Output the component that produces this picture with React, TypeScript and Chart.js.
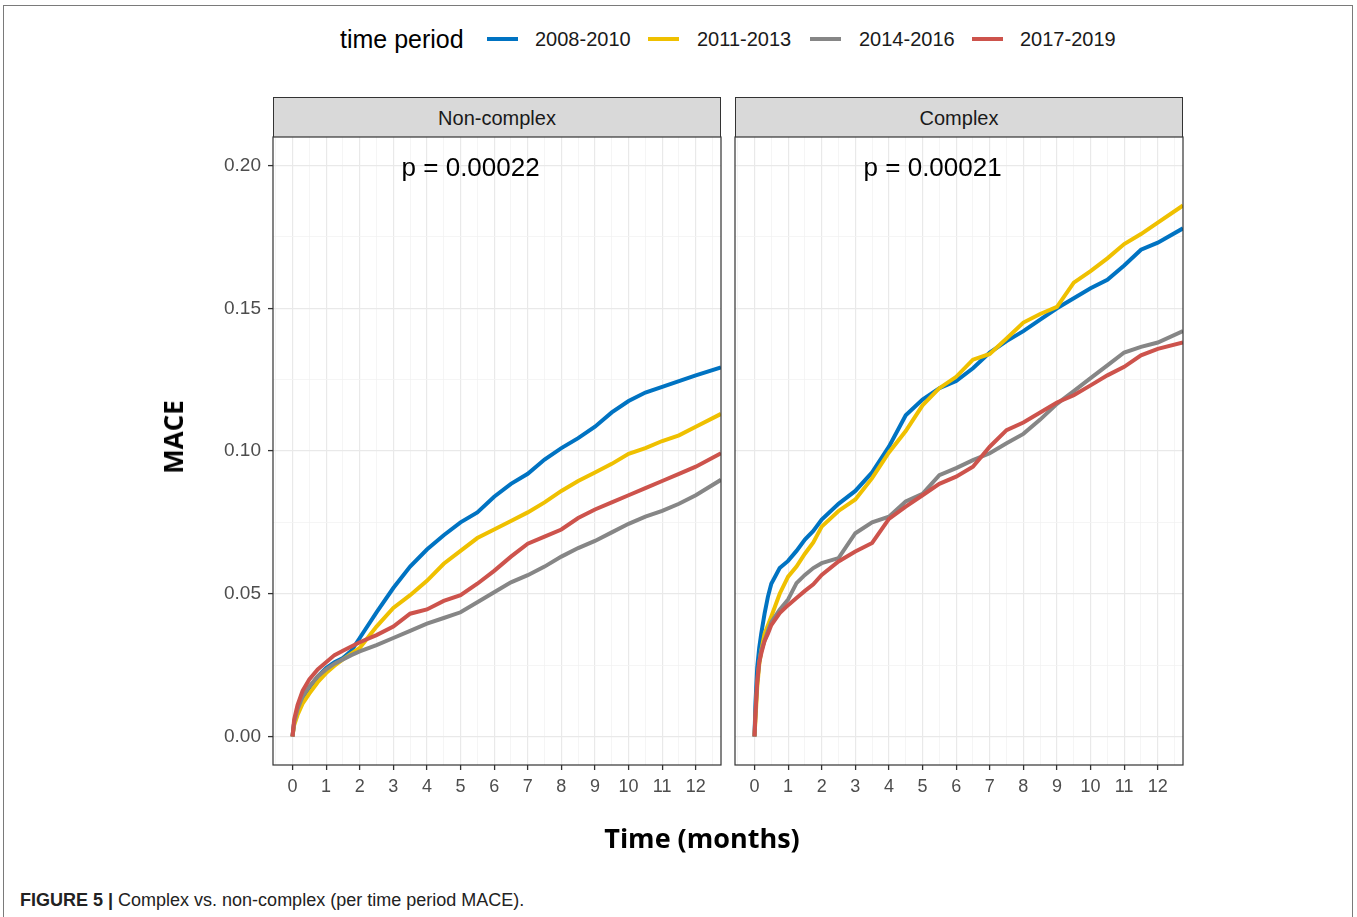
import React, { useEffect, useRef } from 'react';
import { Chart, registerables } from 'chart.js';

Chart.register(...registerables);

// ---------- data ----------
const SERIES_LABELS = ['2008-2010', '2011-2013', '2014-2016', '2017-2019'];
const SERIES_COLORS = ['#0073C2', '#EFC000', '#868686', '#CD534C'];
const PANEL_TITLES = ['Non-complex', 'Complex'];
const P_VALUES = ['p = 0.00022', 'p = 0.00021'];
const P_LABEL_X = 5.3;
const P_LABEL_Y = 0.199;
const X_MIN = -0.58;
const X_MAX = 12.75;
const Y_MIN = -0.01;
const Y_MAX = 0.21;

// Non-complex panel
const MONTHS_NC = [0, 0.05, 0.15, 0.3, 0.5, 0.75, 1, 1.25, 1.5, 1.75, 2, 2.5, 3, 3.5, 4, 4.5, 5, 5.5, 6, 6.5, 7, 7.5, 8, 8.5, 9, 9.5, 10, 10.5, 11, 11.5, 12, 12.75];
const NC_2008_2010 = [0, 0.005, 0.009, 0.0135, 0.017, 0.021, 0.024, 0.026, 0.0275, 0.03, 0.0345, 0.0435, 0.052, 0.0595, 0.0655, 0.0705, 0.075, 0.0785, 0.084, 0.0885, 0.092, 0.097, 0.101, 0.1045, 0.1085, 0.1135, 0.1175, 0.1205, 0.1225, 0.1245, 0.1265, 0.1293];
const NC_2011_2013 = [0, 0.004, 0.0075, 0.0115, 0.015, 0.019, 0.0222, 0.0248, 0.027, 0.029, 0.031, 0.0385, 0.045, 0.0495, 0.0545, 0.0605, 0.065, 0.0695, 0.0725, 0.0755, 0.0785, 0.082, 0.086, 0.0895, 0.0925, 0.0955, 0.099, 0.101, 0.1035, 0.1055, 0.1085, 0.113];
const NC_2014_2016 = [0, 0.005, 0.0095, 0.014, 0.0175, 0.021, 0.0235, 0.0255, 0.027, 0.0285, 0.0298, 0.032, 0.0345, 0.037, 0.0395, 0.0415, 0.0435, 0.047, 0.0505, 0.054, 0.0565, 0.0595, 0.063, 0.066, 0.0685, 0.0715, 0.0745, 0.077, 0.079, 0.0815, 0.0845, 0.0899];
const NC_2017_2019 = [0, 0.006, 0.011, 0.016, 0.02, 0.0235, 0.026, 0.0285, 0.03, 0.0315, 0.033, 0.0355, 0.0385, 0.043, 0.0445, 0.0475, 0.0495, 0.0535, 0.058, 0.063, 0.0675, 0.07, 0.0725, 0.0765, 0.0795, 0.082, 0.0845, 0.087, 0.0895, 0.092, 0.0945, 0.0992];

// Complex panel
const MONTHS_C = [0, 0.03, 0.08, 0.14, 0.2, 0.3, 0.4, 0.5, 0.75, 1, 1.25, 1.5, 1.75, 2, 2.5, 3, 3.5, 4, 4.5, 5, 5.5, 6, 6.5, 7, 7.5, 8, 8.5, 9, 9.5, 10, 10.5, 11, 11.5, 12, 12.75];
const C_2008_2010 = [0, 0.012, 0.024, 0.031, 0.036, 0.043, 0.049, 0.0535, 0.059, 0.0615, 0.065, 0.069, 0.072, 0.076, 0.0815, 0.086, 0.0925, 0.1015, 0.1125, 0.118, 0.122, 0.1245, 0.129, 0.1345, 0.1385, 0.142, 0.146, 0.15, 0.1535, 0.157, 0.16, 0.165, 0.1705, 0.173, 0.178];
const C_2011_2013 = [0, 0.006, 0.017, 0.025, 0.03, 0.036, 0.039, 0.042, 0.05, 0.056, 0.0595, 0.064, 0.068, 0.0735, 0.079, 0.083, 0.0905, 0.0995, 0.107, 0.116, 0.122, 0.126, 0.132, 0.134, 0.1394, 0.145, 0.148, 0.1505, 0.159, 0.163, 0.1675, 0.1725, 0.176, 0.18, 0.186];
const C_2014_2016 = [0, 0.009, 0.019, 0.026, 0.03, 0.0335, 0.037, 0.04, 0.0444, 0.048, 0.0537, 0.0566, 0.059, 0.0607, 0.0625, 0.0712, 0.075, 0.077, 0.0823, 0.085, 0.0915, 0.094, 0.0968, 0.0992, 0.1027, 0.106, 0.111, 0.1165, 0.121, 0.1255, 0.13, 0.1345, 0.1365, 0.138, 0.142];
const C_2017_2019 = [0, 0.008, 0.019, 0.026, 0.029, 0.0335, 0.036, 0.039, 0.0432, 0.046, 0.0485, 0.051, 0.0533, 0.0566, 0.0613, 0.0648, 0.0678, 0.0762, 0.0805, 0.0845, 0.0885, 0.091, 0.0945, 0.1015, 0.1073, 0.11, 0.1135, 0.117, 0.1195, 0.123, 0.1265, 0.1295, 0.1335, 0.1358, 0.138];

const FONT = '"Liberation Sans", Arial, Helvetica, sans-serif';
const BOLD_FONT = '"Open Sans", "Liberation Sans", Arial, sans-serif';

const isWhole = (v: number) => Math.abs(v - Math.round(v)) < 1e-9;
const isMajorY = (v: number) => Math.abs(v / 0.05 - Math.round(v / 0.05)) < 1e-6;

const panelDecor = {
  id: 'panelDecor',
  afterDatasetsDraw(chart: any, _args: any, opts: any) {
    const { ctx, chartArea: a, scales } = chart;
    ctx.save();
    ctx.strokeStyle = '#333333';
    ctx.lineWidth = 1.2;
    ctx.strokeRect(a.left, a.top, a.right - a.left, a.bottom - a.top);
    ctx.fillStyle = '#000000';
    ctx.font = `26px ${FONT}`;
    ctx.textAlign = 'center';
    ctx.textBaseline = 'middle';
    ctx.fillText(opts.text, scales.x.getPixelForValue(P_LABEL_X), scales.y.getPixelForValue(P_LABEL_Y));
    ctx.restore();
  },
};

type PanelProps = {
  months: number[];
  series: number[][];
  pText: string;
  showY: boolean;
  left: number;
  width: number;
  padLeft: number;
  padRight: number;
  yWidth: number;
};

function Panel({ months, series, pText, showY, left, width, padLeft, padRight, yWidth }: PanelProps) {
  const ref = useRef<HTMLCanvasElement | null>(null);
  useEffect(() => {
    if (!ref.current) return;
    const chart = new Chart(ref.current, {
      type: 'line',
      data: {
        datasets: series.map((vals, i) => ({
          label: SERIES_LABELS[i],
          data: months.map((m, j) => ({ x: m, y: vals[j] })),
          borderColor: SERIES_COLORS[i],
          backgroundColor: SERIES_COLORS[i],
          borderWidth: 4,
          pointRadius: 0,
          tension: 0,
          fill: false,
          order: series.length - i,
        })),
      },
      options: {
        animation: false,
        responsive: false,
        events: [],
        layout: { padding: { left: padLeft, right: padRight, top: 20, bottom: 0 } },
        plugins: {
          legend: { display: false },
          tooltip: { enabled: false },
          panelDecor: { text: pText },
        } as any,
        scales: {
          x: {
            type: 'linear',
            min: X_MIN,
            max: X_MAX,
            border: { display: false },
            ticks: {
              stepSize: 0.5,
              autoSkip: false,
              includeBounds: false,
              maxRotation: 0,
              padding: 6,
              color: '#4d4d4d',
              font: { family: FONT, size: 18 },
              callback: (v: any) => (isWhole(Number(v)) ? String(Math.round(Number(v))) : ''),
            },
            grid: {
              color: (c: any) => (isWhole(c.tick.value) ? '#e9e9e9' : '#f3f3f3'),
              lineWidth: (c: any) => (isWhole(c.tick.value) ? 1.2 : 0.8),
              drawTicks: true,
              tickLength: 5,
              tickWidth: 1.3,
              tickColor: (c: any) => (isWhole(c.tick.value) ? '#333333' : 'rgba(0,0,0,0)'),
            },
            afterFit: (s: any) => {
              s.height = 55;
            },
          } as any,
          y: {
            type: 'linear',
            min: Y_MIN,
            max: Y_MAX,
            border: { display: false },
            ticks: {
              display: showY,
              stepSize: 0.025,
              autoSkip: false,
              includeBounds: false,
              padding: 7,
              color: '#4d4d4d',
              font: { family: FONT, size: 19 },
              callback: (v: any) => (isMajorY(Number(v)) ? Number(v).toFixed(2) : ''),
            },
            grid: {
              color: (c: any) => (isMajorY(c.tick.value) ? '#e9e9e9' : '#f3f3f3'),
              lineWidth: (c: any) => (isMajorY(c.tick.value) ? 1.2 : 0.8),
              drawTicks: showY,
              tickLength: 5,
              tickWidth: 1.3,
              tickColor: (c: any) => (isMajorY(c.tick.value) ? '#333333' : 'rgba(0,0,0,0)'),
            },
            afterFit: (s: any) => {
              s.width = yWidth;
            },
          } as any,
        },
      },
      plugins: [panelDecor as any],
    });
    return () => chart.destroy();
  }, []);
  return (
    <canvas
      ref={ref}
      width={width}
      height={703}
      style={{ position: 'absolute', left, top: 117, width, height: 703 }}
    />
  );
}

const abs = (s: React.CSSProperties): React.CSSProperties => ({ position: 'absolute', whiteSpace: 'nowrap', ...s });

function Strip({ left, title }: { left: number; title: string }) {
  return (
    <div
      style={abs({
        left,
        top: 97,
        width: 448,
        height: 40,
        boxSizing: 'border-box',
        background: '#d9d9d9',
        border: '1.2px solid #333333',
        borderBottom: 'none',
        font: `20px ${FONT}`,
        color: '#1a1a1a',
        lineHeight: '40px',
        textAlign: 'center',
      })}
    >
      {title}
    </div>
  );
}

export default function App() {
  const legendKeyX = [487, 648, 810, 972];
  const legendTextX = [535, 697, 859, 1020];
  return (
    <div style={{ position: 'absolute', left: 0, top: 0, width: 1357, height: 917, overflow: 'hidden', background: '#fff' }}>
      <div style={abs({ left: 3, top: 5, width: 1350, height: 940, border: '1.5px solid #7a7a7a', boxSizing: 'border-box' })} />

      {/* legend */}
      <div style={abs({ left: 340, top: 24, font: `25px ${FONT}`, lineHeight: '30px', color: '#000' })}>time period</div>
      {SERIES_LABELS.map((lab, i) => (
        <React.Fragment key={lab}>
          <div style={abs({ left: legendKeyX[i], top: 37, width: 31, height: 4, background: SERIES_COLORS[i] })} />
          <div style={abs({ left: legendTextX[i], top: 27, font: `20px ${FONT}`, lineHeight: '24px', color: '#1a1a1a' })}>{lab}</div>
        </React.Fragment>
      ))}

      <Strip left={273} title={PANEL_TITLES[0]} />
      <Strip left={735} title={PANEL_TITLES[1]} />

      <Panel
        months={MONTHS_NC}
        series={[NC_2008_2010, NC_2011_2013, NC_2014_2016, NC_2017_2019]}
        pText={P_VALUES[0]}
        showY={true}
        left={190}
        width={535}
        padLeft={0}
        padRight={4}
        yWidth={83}
      />
      <Panel
        months={MONTHS_C}
        series={[C_2008_2010, C_2011_2013, C_2014_2016, C_2017_2019]}
        pText={P_VALUES[1]}
        showY={false}
        left={730}
        width={460}
        padLeft={5}
        padRight={7}
        yWidth={0}
      />

      {/* axis titles */}
      <div
        style={abs({
          left: 173,
          top: 437,
          transform: 'translate(-50%, -50%) rotate(-90deg)',
          font: `bold 26px ${BOLD_FONT}`,
          color: '#000',
        })}
      >
        MACE
      </div>
      <div style={abs({ left: 702, top: 837, transform: 'translate(-50%, -50%)', font: `bold 27px ${BOLD_FONT}`, color: '#000' })}>
        Time (months)
      </div>

      {/* caption */}
      <div style={abs({ left: 20, top: 889, font: `18px ${FONT}`, lineHeight: '22px', color: '#222' })}>
        <b>FIGURE 5 |</b> Complex vs. non-complex (per time period MACE).
      </div>
    </div>
  );
}
